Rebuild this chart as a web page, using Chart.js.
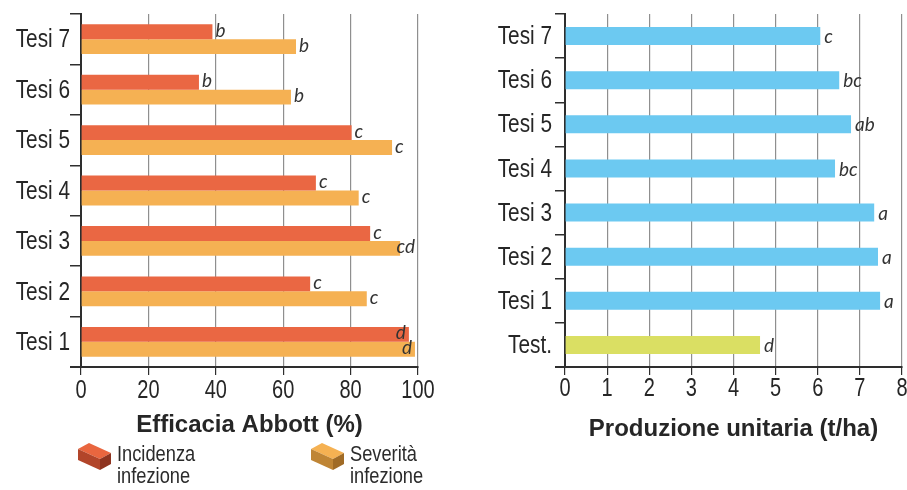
<!DOCTYPE html>
<html lang="it">
<head>
<meta charset="utf-8">
<title>Efficacia Abbott e produzione unitaria</title>
<script src="https://cdn.jsdelivr.net/npm/chart.js@4/dist/chart.umd.min.js"></script>
<style>
  html, body { margin: 0; padding: 0; background: #fff; overflow: hidden; }
  #wrap { position: relative; width: 907px; height: 490px; overflow: hidden; }
  canvas { position: absolute; top: 0; }
  #left { left: 0; }
  #right { left: 455px; }
  .leg { position: absolute; top: 443px; display: flex; align-items: flex-start;
         font-family: "Liberation Sans", Arial, sans-serif;
         font-size: 22px; line-height: 22px; color: #2b2b2b; }
  .leg svg { margin-top: -1px; margin-right: 6px; flex: none; }
  .leg .txt { transform: scaleX(0.83); transform-origin: 0 0; white-space: nowrap; }
</style>
</head>
<body>
<div id="wrap">
  <canvas id="left" width="455" height="490"></canvas>
  <canvas id="right" width="470" height="490"></canvas>
  <div class="leg" style="left:78px;">
    <svg width="33" height="29" viewBox="0 0 33 29">
      <polygon points="0,7 11,1 33,11 22,17" fill="#e9663f"/>
      <polygon points="0,7 22,17 22,28 0,18" fill="#b2452a"/>
      <polygon points="22,17 33,11 33,22 22,28" fill="#8e3420"/>
    </svg>
    <div class="txt">Incidenza<br>infezione</div>
  </div>
  <div class="leg" style="left:311px;">
    <svg width="33" height="29" viewBox="0 0 33 29">
      <polygon points="0,7 11,1 33,11 22,17" fill="#f5b152"/>
      <polygon points="0,7 22,17 22,28 0,18" fill="#bf8535"/>
      <polygon points="22,17 33,11 33,22 22,28" fill="#a06b26"/>
    </svg>
    <div class="txt">Severità<br>infezione</div>
  </div>
</div>
<script>
// Efficacia Abbott (%) per tesi, dall'alto verso il basso
const tesiLabels = ['Tesi 7', 'Tesi 6', 'Tesi 5', 'Tesi 4', 'Tesi 3', 'Tesi 2', 'Tesi 1'];
const incidenza = [39, 35, 80.3, 69.7, 85.8, 68, 97.3];
const severita = [63.8, 62.3, 92.3, 82.4, 94.7, 84.8, 99.1];
const lettereIncidenza = ['b', 'b', 'c', 'c', 'c', 'c', 'd'];
const lettereSeverita = ['b', 'b', 'c', 'c', 'cd', 'c', 'd'];
const efficaciaTicks = [0, 20, 40, 60, 80, 100];

// Produzione unitaria (t/ha)
const produzioneLabels = ['Tesi 7', 'Tesi 6', 'Tesi 5', 'Tesi 4', 'Tesi 3', 'Tesi 2', 'Tesi 1', 'Test.'];
const produzione = [6.06, 6.51, 6.79, 6.41, 7.34, 7.43, 7.48, 4.63];
const lettereProduzione = ['c', 'bc', 'ab', 'bc', 'a', 'a', 'a', 'd'];
const produzioneTicks = [0, 1, 2, 3, 4, 5, 6, 7, 8];

const SANS = '"Liberation Sans", Arial, sans-serif';
const INK = '#262626';
const AXIS = '#2e2e2e';
const GRID = '#8f8f8f';
const BLUE = '#6cc9f1';
const TEST = '#dadf63';
const produzioneColori = produzioneLabels.map(l => l === 'Test.' ? TEST : BLUE);
const CONDENSE = 0.8; // compressione orizzontale delle etichette degli assi

Chart.defaults.font.family = SANS;
Chart.defaults.color = INK;

// Lettere di significatività scritte accanto alla fine di ogni barra
function letterPlugin(id, letterSets, gap, dy) {
  return {
    id,
    afterDatasetsDraw(chart) {
      const { ctx, chartArea } = chart;
      ctx.save();
      ctx.font = 'italic 19px Lato, "Liberation Sans", sans-serif';
      ctx.fillStyle = '#333';
      ctx.textBaseline = 'middle';
      letterSets.forEach((letters, di) => {
        const meta = chart.getDatasetMeta(di);
        meta.data.forEach((bar, i) => {
          const txt = letters[i];
          const w = ctx.measureText(txt).width;
          const end = bar.x;
          let x;
          if (end > chartArea.right - 12) {
            x = Math.min(end, chartArea.right) - 3 - w;
          } else {
            x = Math.min(end + gap + w, chartArea.right - 3) - w;
          }
          ctx.fillText(txt, x, bar.y + dy);
        });
      });
      ctx.restore();
    }
  };
}

// Etichette condensate degli assi, posizionate con le scale del grafico
function axisLabelPlugin(id, yGap, xGap) {
  return {
    id,
    afterDraw(chart) {
      const { ctx } = chart;
      const ys = chart.scales.y;
      const xs = chart.scales.x;
      ctx.save();
      ctx.fillStyle = INK;
      ctx.font = '26px ' + SANS;
      ctx.textAlign = 'right';
      ctx.textBaseline = 'middle';
      ys.getLabels().forEach((lab, i) => {
        ctx.save();
        ctx.translate(ys.right - yGap, ys.getPixelForTick(i) + 1);
        ctx.scale(CONDENSE, 1);
        ctx.fillText(lab, 0, 0);
        ctx.restore();
      });
      ctx.font = '25px ' + SANS;
      ctx.textAlign = 'center';
      ctx.textBaseline = 'top';
      xs.ticks.forEach((t) => {
        ctx.save();
        ctx.translate(xs.getPixelForValue(t.value), xs.top + xGap);
        ctx.scale(CONDENSE, 1);
        ctx.fillText(String(t.value), 0, 0);
        ctx.restore();
      });
      ctx.restore();
    }
  };
}

function axisLinePlugin(id, tick) {
  return {
    id,
    afterDraw(chart) {
      const { ctx, chartArea } = chart;
      ctx.save();
      ctx.strokeStyle = AXIS;
      ctx.lineWidth = 2;
      ctx.beginPath();
      ctx.moveTo(chartArea.left - tick, chartArea.bottom);
      ctx.lineTo(chartArea.right + 0.5, chartArea.bottom);
      ctx.stroke();
      ctx.restore();
    }
  };
}

// Grafico di sinistra: efficacia Abbott
new Chart(document.getElementById('left'), {
  type: 'bar',
  data: {
    labels: tesiLabels,
    datasets: [
      { label: 'Incidenza infezione', data: incidenza, backgroundColor: '#ea6743',
        categoryPercentage: 0.59, barPercentage: 1 },
      { label: 'Severità infezione', data: severita, backgroundColor: '#f5b153',
        categoryPercentage: 0.59, barPercentage: 1 }
    ]
  },
  options: {
    indexAxis: 'y',
    responsive: false,
    animation: false,
    layout: { padding: { left: 0, top: 14, right: 37, bottom: 46 } },
    plugins: { legend: { display: false }, tooltip: { enabled: false } },
    scales: {
      x: {
        min: 0, max: 100,
        afterBuildTicks: (s) => { s.ticks = efficaciaTicks.map(v => ({ value: v })); },
        afterFit: (s) => { s.height = 77; },
        grid: {
          color: (c) => c.tick && c.tick.value === 0 ? 'rgba(0,0,0,0)' : GRID,
          tickColor: AXIS, tickLength: 8, lineWidth: 1.2
        },
        border: { display: false },
        ticks: { display: false },
        title: {
          display: true, text: 'Efficacia Abbott (%)', color: INK,
          font: { size: 24, weight: 'bold' }, padding: { top: 0, bottom: 4 }
        }
      },
      y: {
        afterFit: (s) => { s.width = 81; },
        grid: { drawOnChartArea: false, tickLength: 11, color: AXIS, lineWidth: 1.5 },
        border: { display: true, color: AXIS, width: 2 },
        ticks: { display: false }
      }
    }
  },
  plugins: [
    letterPlugin('lettereEfficacia', [lettereIncidenza, lettereSeverita], 3, -1),
    axisLinePlugin('asseEfficacia', 11),
    axisLabelPlugin('etichetteEfficacia', 11, 12)
  ]
});

// Grafico di destra: produzione unitaria
new Chart(document.getElementById('right'), {
  type: 'bar',
  data: {
    labels: produzioneLabels,
    datasets: [
      { label: 'Produzione unitaria', data: produzione, backgroundColor: produzioneColori,
        categoryPercentage: 1, barPercentage: 0.41 }
    ]
  },
  options: {
    indexAxis: 'y',
    responsive: false,
    animation: false,
    layout: { padding: { left: 0, top: 14, right: 23, bottom: 42 } },
    plugins: { legend: { display: false }, tooltip: { enabled: false } },
    scales: {
      x: {
        min: 0, max: 8,
        afterBuildTicks: (s) => { s.ticks = produzioneTicks.map(v => ({ value: v })); },
        afterFit: (s) => { s.height = 81; },
        grid: {
          color: (c) => c.tick && c.tick.value === 0 ? 'rgba(0,0,0,0)' : GRID,
          tickColor: AXIS, tickLength: 8, lineWidth: 1.2
        },
        border: { display: false },
        ticks: { display: false },
        title: {
          display: true, text: 'Produzione unitaria (t/ha)', color: INK,
          font: { size: 24, weight: 'bold' }, padding: { top: 0, bottom: 4 }
        }
      },
      y: {
        afterFit: (s) => { s.width = 110; },
        grid: { drawOnChartArea: false, tickLength: 10, color: AXIS, lineWidth: 1.5 },
        border: { display: true, color: AXIS, width: 2 },
        ticks: { display: false }
      }
    }
  },
  plugins: [
    letterPlugin('lettereProduzione', [lettereProduzione], 4, 1),
    axisLinePlugin('asseProduzione', 10),
    axisLabelPlugin('etichetteProduzione', 13, 10)
  ]
});
</script>
</body>
</html>
